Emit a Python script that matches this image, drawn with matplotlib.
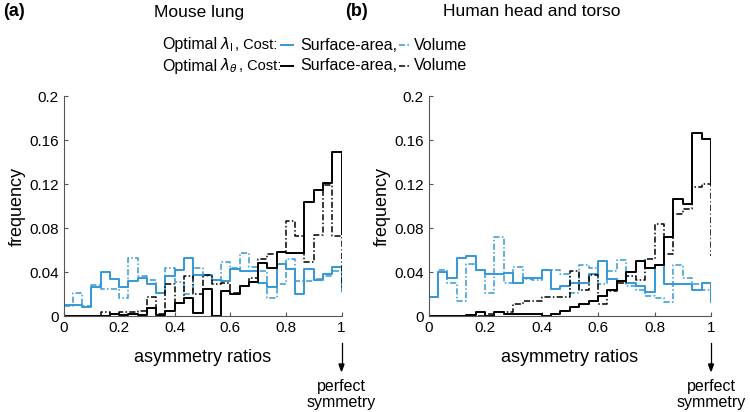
import numpy as np
import matplotlib
matplotlib.use("Agg")
import matplotlib.pyplot as plt

plt.rcParams['font.family'] = ['Liberation Sans', 'DejaVu Sans']

BLUE = '#3498d8'

# 30 bins over [0, 1]
n_bins = 30

# mouse lung, frequency per bin
lung_surface_l = [0.010, 0.010, 0.008, 0.026, 0.040, 0.034, 0.026, 0.032, 0.035, 0.029,
                  0.021, 0.036, 0.042, 0.053, 0.037, 0.037, 0.033, 0.032, 0.043, 0.041,
                  0.041, 0.030, 0.026, 0.047, 0.043, 0.020, 0.043, 0.033, 0.038, 0.045]
lung_volume_l = [0.009, 0.021, 0.009, 0.028, 0.025, 0.025, 0.016, 0.053, 0.036, 0.033,
                 0.021, 0.044, 0.031, 0.020, 0.044, 0.036, 0.033, 0.049, 0.044, 0.057,
                 0.045, 0.041, 0.016, 0.029, 0.052, 0.032, 0.032, 0.034, 0.036, 0.041]
lung_surface_t = [0.0, 0.0, 0.0, 0.0, 0.0, 0.002, 0.001, 0.002, 0.001, 0.007,
                  0.001, 0.005, 0.012, 0.016, 0.003, 0.025, 0.0, 0.023, 0.020, 0.027,
                  0.031, 0.048, 0.044, 0.058, 0.057, 0.057, 0.104, 0.115, 0.121, 0.149]
lung_volume_t = [0.0, 0.0, 0.0, 0.0, 0.004, 0.002, 0.004, 0.004, 0.005, 0.017,
                 0.002, 0.029, 0.012, 0.036, 0.020, 0.037, 0.029, 0.030, 0.021, 0.027,
                 0.035, 0.052, 0.056, 0.058, 0.086, 0.073, 0.049, 0.074, 0.119, 0.073]
lung_end = [0.023, 0.020, 0.075, 0.025]

# human head and torso
head_surface_l = [0.017, 0.040, 0.035, 0.053, 0.055, 0.042, 0.038, 0.038, 0.039, 0.030,
                  0.035, 0.035, 0.042, 0.025, 0.027, 0.030, 0.030, 0.038, 0.050, 0.034,
                  0.032, 0.030, 0.027, 0.022, 0.046, 0.029, 0.029, 0.029, 0.024, 0.030]
head_volume_l = [0.017, 0.042, 0.030, 0.014, 0.047, 0.042, 0.021, 0.072, 0.030, 0.045,
                 0.034, 0.033, 0.042, 0.042, 0.038, 0.021, 0.046, 0.044, 0.029, 0.041,
                 0.051, 0.027, 0.024, 0.018, 0.016, 0.013, 0.046, 0.035, 0.029, 0.024]
head_surface_t = [0.0, 0.0, 0.0, 0.0, 0.001, 0.004, 0.0, 0.004, 0.002, 0.002,
                  0.0015, 0.0015, 0.0, 0.002, 0.005, 0.008, 0.011, 0.014, 0.018, 0.024,
                  0.032, 0.040, 0.050, 0.044, 0.046, 0.072, 0.106, 0.102, 0.166, 0.161]
head_volume_t = [0.0, 0.0, 0.0, 0.0, 0.0, 0.0, 0.002, 0.004, 0.004, 0.011,
                 0.014, 0.014, 0.017, 0.017, 0.017, 0.041, 0.024, 0.037, 0.011, 0.023,
                 0.030, 0.036, 0.033, 0.052, 0.084, 0.056, 0.093, 0.097, 0.117, 0.120]
head_end = [0.013, 0.012, 0.120, 0.055]

x_ticks = [0, 0.2, 0.4, 0.6, 0.8, 1]
x_labels = ['0', '0.2', '0.4', '0.6', '0.8', '1']
y_ticks = [0, 0.04, 0.08, 0.12, 0.16, 0.2]
y_labels = ['0', '0.04', '0.08', '0.12', '0.16', '0.2']

DASHDOT = (0, (4, 1.5, 1, 1.5))
styles = [
    (BLUE, '-', 1.4),
    (BLUE, DASHDOT, 1.1),
    ('black', '-', 1.4),
    ('black', DASHDOT, 1.1),
]

W, H = 750, 412


def fx(px):
    return px / W


def fy(py):
    return 1 - py / H


def draw_panel(ax, series, ends):
    edges = np.linspace(0, 1, n_bins + 1)
    for vals, end, (color, ls, lw) in zip(series, ends, styles):
        ax.step(edges, list(vals) + [end], where='post', color=color,
                linestyle=ls, linewidth=lw)
    ax.set_xlim(0, 1)
    ax.set_ylim(0, 0.2)
    ax.set_xticks(x_ticks)
    ax.set_xticklabels(x_labels)
    ax.set_yticks(y_ticks)
    ax.set_yticklabels(y_labels)
    ax.tick_params(direction='in', length=3, labelsize=11, width=0.8, color='#555555')
    for side in ['top', 'right']:
        ax.spines[side].set_visible(False)
    for side in ['left', 'bottom']:
        ax.spines[side].set_color('#555555')
        ax.spines[side].set_linewidth(0.8)
    ax.set_xlabel('asymmetry ratios', fontsize=13, labelpad=10)
    ax.set_ylabel('frequency', fontsize=13, labelpad=2)


fig = plt.figure(figsize=(7.5, 4.12), dpi=100)
ax1 = fig.add_axes([fx(63.5), fy(316), fx(278), 220 / H])
ax2 = fig.add_axes([fx(428.5), fy(316), fx(282.5), 220 / H])

draw_panel(ax1, [lung_surface_l, lung_volume_l, lung_surface_t, lung_volume_t], lung_end)
draw_panel(ax2, [head_surface_l, head_volume_l, head_surface_t, head_volume_t], head_end)

# panel labels and titles
fig.text(fx(3), fy(12), '(a)', fontsize=13, fontweight='bold', va='center')
fig.text(fx(345), fy(12), '(b)', fontsize=13, fontweight='bold', va='center')
fig.text(fx(199), fy(12), 'Mouse lung', fontsize=12.5, ha='center', va='center')
fig.text(fx(532), fy(12), 'Human head and torso', fontsize=12.5, ha='center', va='center')

# legend written as a sentence with short line samples
legend_rows = [(45, r'$\lambda_{\mathrm{l}}$', 235, BLUE),
               (66, r'$\lambda_{\theta}$', 239, 'black')]
for y, lam, cost_x, color in legend_rows:
    fig.text(fx(162), fy(y), 'Optimal', fontsize=11.5, va='center')
    fig.text(fx(220), fy(y), lam, fontsize=11, va='center')
    fig.text(fx(cost_x), fy(y), ', Cost:', fontsize=10.5, va='center')
    fig.add_artist(plt.Line2D([fx(281), fx(293)], [fy(y), fy(y)], color=color,
                              linewidth=1.4, transform=fig.transFigure))
    fig.text(fx(300), fy(y), 'Surface-area,', fontsize=11.5, va='center')
    fig.add_artist(plt.Line2D([fx(399), fx(410)], [fy(y), fy(y)], color=color,
                              linewidth=1.1, linestyle=DASHDOT, transform=fig.transFigure))
    fig.text(fx(414), fy(y), 'Volume', fontsize=11.5, va='center')

# "perfect symmetry" arrows under x = 1
for x in [341.5, 711]:
    fig.add_artist(plt.Line2D([fx(x), fx(x)], [fy(343), fy(366)], color='black',
                              linewidth=0.9, transform=fig.transFigure))
    fig.patches.append(plt.Polygon([[fx(x - 2.5), fy(364)], [fx(x + 2.5), fy(364)],
                                    [fx(x), fy(371)]], closed=True, color='black',
                                   transform=fig.transFigure))
    fig.text(fx(x), fy(386), 'perfect', fontsize=11.5, ha='center', va='center')
    fig.text(fx(x), fy(403), 'symmetry', fontsize=11.5, ha='center', va='center')

fig.savefig('out.png', dpi=100)
